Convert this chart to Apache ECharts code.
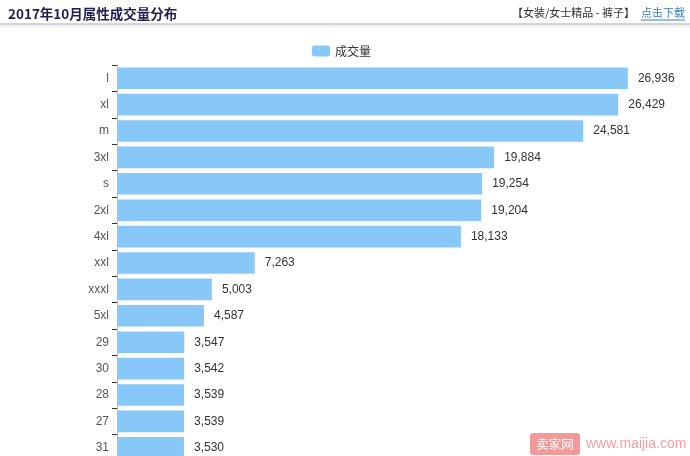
<!DOCTYPE html>
<html><head><meta charset="utf-8">
<script src="https://cdn.jsdelivr.net/npm/echarts@6/dist/echarts.min.js"></script>
<style>html,body{margin:0;padding:0;background:#fff;overflow:hidden;}#c{width:690px;height:461px;}</style>
</head><body><div id="c"></div>
<script>
const categories = ['l','xl','m','3xl','s','2xl','4xl','xxl','xxxl','5xl','29','30','28','27','31'];
const volumes = [26936,26429,24581,19884,19254,19204,18133,7263,5003,4587,3547,3542,3539,3539,3530];
const seriesName = '成交量';
const fmt = v => String(v).replace(/\B(?=(\d{3})+(?!\d))/g, ',');
const chart = echarts.init(document.getElementById('c'));
chart.setOption({
  backgroundColor:'#fff',
  animation:false,
  legend:{top:40,left:307,itemWidth:18,itemHeight:11,itemGap:5,
    textStyle:{fontSize:12,color:'#333',fontFamily:'Noto Sans CJK SC'},
    data:[{name:seriesName,icon:'roundRect'}]},
  grid:{left:117,top:65,width:569,bottom:0,containLabel:false},
  xAxis:{type:'value',min:0,max:30000,show:false},
  yAxis:{type:'category',data:categories,inverse:true,
    axisLine:{lineStyle:{color:'#bbb'}},
    axisTick:{show:true,length:5,lineStyle:{color:'#333'}},
    axisLabel:{color:'#555',fontSize:12,margin:8,fontFamily:'Liberation Sans'}},
  series:[{name:seriesName,type:'bar',data:volumes,barCategoryGap:'18%',
    itemStyle:{color:'#88c8f8'},
    label:{show:true,position:'right',distance:10,color:'#333',fontSize:12,fontFamily:'Liberation Sans',
      formatter:p=>fmt(p.value)}}],
  graphic:[
    {type:'text',x:8,y:14,style:{text:'2017年10月属性成交量分布',fill:'#1e1e50',font:'bold 13.5px "Noto Sans CJK SC"',verticalAlign:'middle'}},
    {type:'text',x:512,y:13,style:{text:'【女装/女士精品 - 裤子】',fill:'#333',font:'11px "Noto Sans CJK SC"',verticalAlign:'middle'}},
    {type:'text',x:641,y:13,style:{text:'点击下载',fill:'#3a7fc4',font:'11px "Noto Sans CJK SC"',verticalAlign:'middle'}},
    {type:'rect',shape:{x:641,y:19.5,width:44,height:1},style:{fill:'#3a7fc4'}},
    {type:'rect',shape:{x:0,y:23,width:690,height:2},style:{fill:'#d6d6d6'}},
    {type:'rect',shape:{x:0,y:25,width:690,height:4},style:{fill:{type:'linear',x:0,y:0,x2:0,y2:1,colorStops:[{offset:0,color:'#ececec'},{offset:1,color:'#ffffff'}]}}},
    {type:'rect',shape:{x:530,y:433,width:50,height:22,r:3},style:{fill:'#f29a9a'}},
    {type:'text',x:555,y:444,style:{text:'卖家网',fill:'#fff',font:'12.5px "Noto Sans CJK SC"',align:'center',verticalAlign:'middle'}},
    {type:'text',x:586,y:444,style:{text:'www.maijia.com',fill:'#f4a0a0',font:'14px "Liberation Sans"',verticalAlign:'middle'}}
  ]
});
</script></body></html>
